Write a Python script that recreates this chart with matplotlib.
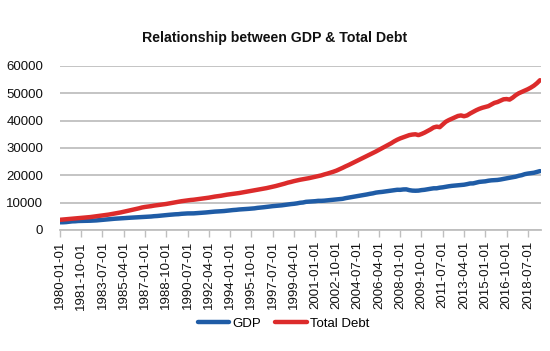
import numpy as np
import pandas as pd
import matplotlib
matplotlib.use('Agg')
import matplotlib.pyplot as plt

# quarterly, 1980Q1 .. 2019Q3 (billions)
quarters = pd.date_range('1980-01-01', periods=159, freq='QS').strftime('%Y-%m-%d').tolist()

gdp = [
    2789.8, 2797.4, 2856.5, 2985.6,
    3124.2, 3162.5, 3260.6, 3280.8,
    3274.3, 3331.0, 3367.0, 3407.8,
    3480.3, 3583.8, 3692.3, 3796.1,
    3912.8, 4015.0, 4087.4, 4147.6,
    4237.0, 4302.3, 4394.6, 4453.1,
    4516.3, 4555.2, 4619.6, 4669.4,
    4736.2, 4821.5, 4900.5, 5022.7,
    5090.6, 5207.7, 5299.5, 5412.7,
    5527.4, 5628.4, 5711.6, 5763.4,
    5890.8, 5974.7, 6029.5, 6023.3,
    6054.9, 6143.6, 6218.4, 6279.3,
    6380.8, 6492.3, 6586.5, 6697.6,
    6748.2, 6829.6, 6904.2, 7032.8,
    7136.3, 7269.8, 7352.3, 7476.7,
    7545.3, 7604.9, 7706.5, 7799.5,
    7893.1, 8061.5, 8159.0, 8287.1,
    8402.1, 8551.9, 8691.8, 8788.3,
    8889.7, 8994.7, 9146.5, 9325.7,
    9447.1, 9557.0, 9712.3, 9926.1,
    10031.0, 10278.3, 10357.4, 10472.3,
    10508.1, 10638.4, 10639.5, 10701.3,
    10834.4, 10934.8, 11037.1, 11103.8,
    11230.1, 11370.7, 11625.1, 11816.8,
    11988.4, 12181.4, 12367.7, 12562.2,
    12813.7, 12974.1, 13205.4, 13381.6,
    13648.9, 13799.8, 13908.5, 14066.4,
    14233.2, 14422.3, 14569.7, 14685.3,
    14668.4, 14813.0, 14843.0, 14549.9,
    14383.9, 14340.4, 14384.1, 14566.5,
    14681.1, 14888.6, 15057.7, 15230.2,
    15238.4, 15460.9, 15587.1, 15785.3,
    15973.9, 16121.9, 16227.9, 16297.3,
    16475.4, 16541.4, 16749.3, 16999.9,
    17025.2, 17285.6, 17569.4, 17692.2,
    17783.6, 17998.3, 18141.9, 18222.8,
    18281.6, 18450.1, 18675.3, 18869.4,
    19087.6, 19269.1, 19483.6, 19805.0,
    20033.9, 20409.9, 20615.6, 20773.8,
    20919.0, 21216.7, 21525.8,
]

total_debt = [
    3700, 3800, 3900, 4000,
    4100, 4200, 4300, 4400,
    4500, 4600, 4700, 4850,
    5000, 5150, 5300, 5450,
    5600, 5800, 6000, 6200,
    6400, 6650, 6900, 7150,
    7400, 7650, 7900, 8200,
    8400, 8550, 8700, 8900,
    9050, 9200, 9350, 9500,
    9700, 9900, 10100, 10300,
    10500, 10650, 10800, 10950,
    11050, 11200, 11350, 11500,
    11650, 11800, 12000, 12200,
    12350, 12500, 12700, 12900,
    13050, 13200, 13350, 13500,
    13700, 13900, 14100, 14300,
    14500, 14700, 14900, 15100,
    15300, 15550, 15800, 16050,
    16350, 16650, 16950, 17300,
    17550, 17850, 18100, 18350,
    18550, 18750, 18950, 19200,
    19450, 19700, 19950, 20300,
    20600, 20950, 21300, 21700,
    22200, 22700, 23250, 23750,
    24300, 24850, 25400, 25950,
    26500, 27050, 27600, 28150,
    28700, 29300, 29900, 30500,
    31100, 31700, 32400, 33000,
    33500, 33900, 34300, 34700,
    34900, 35000, 34700, 35100,
    35600, 36200, 36800, 37500,
    37800, 37600, 38600, 39600,
    40200, 40700, 41200, 41700,
    41900, 41600, 41900, 42600,
    43200, 43800, 44300, 44700,
    45000, 45300, 45900, 46500,
    46800, 47300, 47800, 47900,
    47700, 48400, 49300, 50000,
    50500, 51000, 51500, 52100,
    52800, 53700, 54800,
]

plt.rcParams['font.family'] = ['Liberation Sans', 'DejaVu Sans']

fig = plt.figure(figsize=(5.5, 3.51), dpi=100)
ax = fig.add_axes([0.109, 0.345, 0.875, 0.467])

x = np.arange(len(quarters))
ax.plot(x, gdp, color='#1F5CA6', linewidth=3.2, label='GDP', solid_capstyle='round')
ax.plot(x, total_debt, color='#DC2B2B', linewidth=3.2, label='Total Debt', solid_capstyle='round')

ax.set_xlim(0, len(quarters) - 0.6)
ax.set_ylim(0, 60000)
ax.set_yticks(np.arange(0, 60001, 10000))
ax.tick_params(axis='y', length=0, labelsize=9.5, labelcolor='#111111', pad=12)
ax.yaxis.grid(True, color='#BFBFBF', linewidth=1.3)
ax.set_axisbelow(True)

ticks = x[::7]
ax.set_xticks(ticks)
ax.set_xticklabels([quarters[i] for i in ticks], rotation=90, fontsize=9.5, color='#111111')
ax.tick_params(axis='x', direction='out', length=5, width=1, color='#BFBFBF', pad=3)

for side in ['left', 'right', 'top']:
    ax.spines[side].set_visible(False)
ax.spines['bottom'].set_color('#BFBFBF')
ax.spines['bottom'].set_linewidth(1.3)

fig.text(0.5, 0.893, 'Relationship between GDP & Total Debt', ha='center', va='center',
         fontsize=10.2, fontweight='bold', color='#111111')

fig.legend(loc='center', bbox_to_anchor=(0.515, 0.078), ncol=2, frameon=False,
           fontsize=9.5, handlelength=2.4, handletextpad=0.2, columnspacing=1.1)

plt.savefig('out.png', dpi=100, facecolor='white')
